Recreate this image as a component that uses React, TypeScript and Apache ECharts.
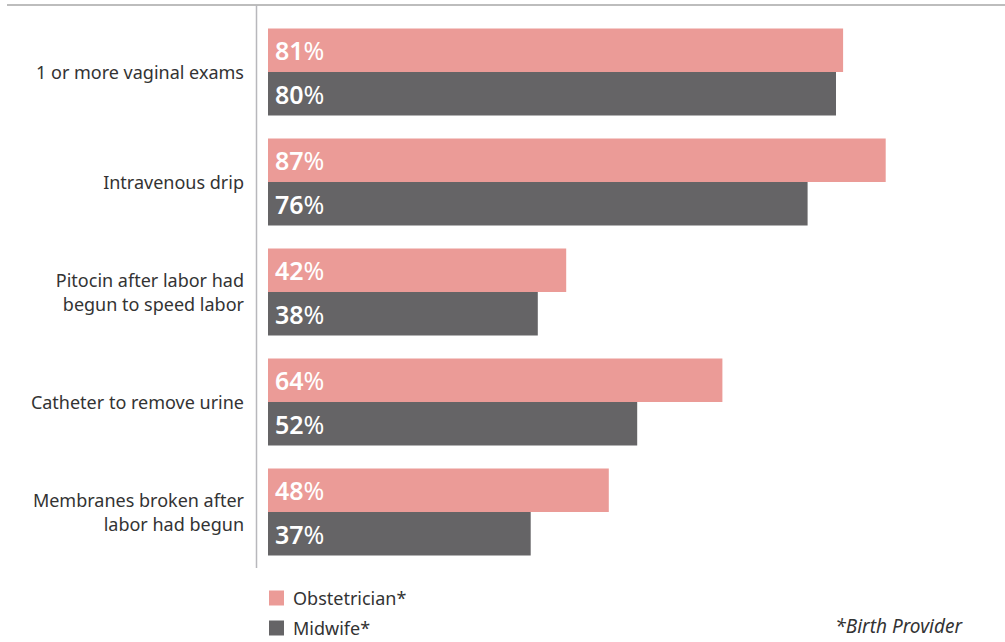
import React, { useEffect, useRef } from "react";
import * as echarts from "echarts";

const categories = [
  "1 or more vaginal exams",
  "Intravenous drip",
  "Pitocin after labor had\nbegun to speed labor",
  "Catheter to remove urine",
  "Membranes broken after\nlabor had begun",
];
const obstetrician = [81, 87, 42, 64, 48];
const midwife = [80, 76, 38, 52, 37];
const seriesNames = ["Obstetrician*", "Midwife*"];
const footnote = "*Birth Provider";

const PINK = "#eb9b97";
const DARK = "#656466";
const FONT = "'Noto Sans', sans-serif";

export default function App() {
  const ref = useRef<HTMLDivElement>(null);
  useEffect(() => {
    if (!ref.current) return;
    const chart = echarts.init(ref.current, null, { renderer: "svg" });
    const label = {
      show: true,
      position: "insideLeft",
      distance: 7,
      formatter: "{v|{c}}{p|%}",
      rich: {
        v: { color: "#fff", fontSize: 25, fontWeight: 600, fontFamily: FONT },
        p: { color: "#fff", fontSize: 25, fontWeight: "normal", fontFamily: FONT },
      },
    };
    chart.setOption({
      animation: false,
      textStyle: { fontFamily: FONT },
      grid: { left: 268, top: 17, width: 710, height: 550, containLabel: false },
      xAxis: {
        type: "value",
        min: 0,
        max: 100,
        show: false,
      },
      yAxis: {
        type: "category",
        data: categories,
        inverse: true,
        axisLine: { show: false },
        axisTick: { show: false },
        axisLabel: {
          margin: 24,
          color: "#333",
          fontSize: 18,
          lineHeight: 24,
          fontFamily: FONT,
          align: "right",
        },
      },
      legend: {
        orient: "vertical",
        left: 269,
        top: 589,
        padding: 0,
        itemWidth: 15,
        itemHeight: 15,
        itemGap: 12,
        icon: "rect",
        data: seriesNames,
        textStyle: { color: "#333", fontSize: 18, lineHeight: 18, fontFamily: FONT, padding: [0, 0, 0, 4] },
      },
      graphic: [
        {
          type: "line",
          shape: { x1: 7, y1: 5, x2: 1005, y2: 5 },
          style: { stroke: "#bdbdbd", lineWidth: 2 },
        },
        {
          type: "line",
          shape: { x1: 256.5, y1: 5, x2: 256.5, y2: 568 },
          style: { stroke: "#b8b8bc", lineWidth: 1.5 },
        },
        {
          type: "text",
          right: 43,
          top: 616,
          style: {
            text: footnote,
            fill: "#333",
            font: `italic 19px ${FONT}`,
          },
        },
      ],
      series: [
        {
          name: seriesNames[0],
          type: "bar",
          data: obstetrician,
          itemStyle: { color: PINK },
          barGap: "0%",
          barCategoryGap: "21%",
          label,
        },
        {
          name: seriesNames[1],
          type: "bar",
          data: midwife,
          itemStyle: { color: DARK },
          barGap: "0%",
          barCategoryGap: "21%",
          label,
        },
      ],
    });
    return () => chart.dispose();
  }, []);
  return <div ref={ref} style={{ width: 1005, height: 642, position: "absolute", left: 0, top: 0 }} />;
}
